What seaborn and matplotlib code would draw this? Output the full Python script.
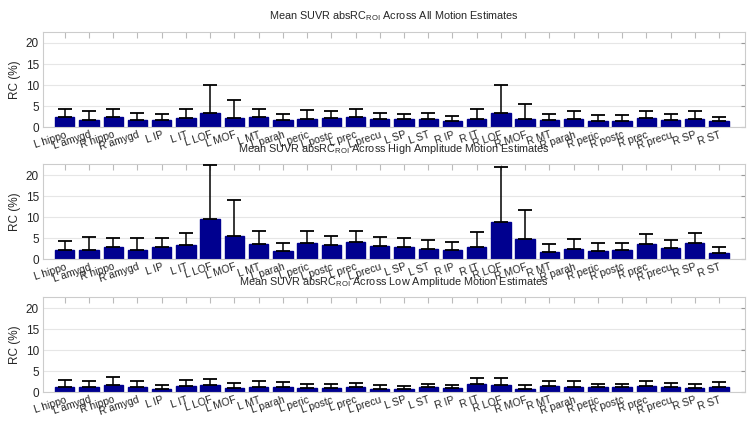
import numpy as np
import pandas as pd
import matplotlib
matplotlib.use("Agg")
import matplotlib.pyplot as plt
import matplotlib.transforms as mtransforms
import seaborn as sns

# Region labels
regions = ["L hippo", "L amygd", "R hippo", "R amygd",
           "L IP", "L IT", "L LOF", "L MOF", "L MT", "L parah", "L peric",
           "L postc", "L prec", "L precu", "L SP", "L ST",
           "R IP", "R IT", "R LOF", "R MOF", "R MT", "R parah", "R peric",
           "R postc", "R prec", "R precu", "R SP", "R ST"]

# Mean RC (%) and top of error bar (mean + SD)
all_mean = [2.3, 1.7, 2.3, 1.7, 1.7, 2.2, 3.4, 2.2, 2.3, 1.7, 2.0, 2.2, 2.5, 1.9,
            1.8, 2.0, 1.4, 2.0, 3.3, 1.9, 1.7, 2.0, 1.5, 1.5, 2.2, 1.7, 2.0, 1.4]
all_top = [4.4, 3.7, 4.4, 3.4, 3.0, 4.2, 10.0, 6.5, 4.4, 3.0, 4.1, 3.9, 4.4, 3.4,
           3.1, 3.4, 2.6, 4.4, 10.0, 5.4, 3.0, 3.8, 2.8, 2.9, 3.9, 3.0, 3.8, 2.5]

high_mean = [2.2, 2.2, 2.8, 2.2, 2.8, 3.3, 9.6, 5.5, 3.5, 2.0, 3.8, 3.3, 4.1, 3.1,
             2.8, 2.5, 2.2, 2.8, 8.8, 4.8, 1.8, 2.5, 2.0, 2.2, 3.6, 2.6, 3.8, 1.5]
high_top = [4.3, 5.2, 5.1, 5.0, 5.0, 6.3, 22.4, 14.1, 6.7, 3.8, 6.8, 5.5, 6.7, 5.3,
            5.0, 4.6, 4.1, 6.4, 21.9, 11.6, 3.6, 4.8, 3.9, 3.9, 5.9, 4.5, 6.3, 3.0]

low_mean = [1.3, 1.1, 1.6, 1.1, 0.8, 1.4, 1.6, 1.0, 1.3, 1.1, 1.0, 1.0, 1.3, 0.8,
            0.7, 1.1, 1.0, 1.8, 1.6, 0.8, 1.4, 1.3, 1.1, 1.1, 1.4, 1.1, 1.0, 1.3]
low_top = [2.9, 2.7, 3.5, 2.6, 1.6, 2.9, 3.1, 2.1, 2.6, 2.4, 1.8, 1.9, 2.2, 1.7,
           1.5, 2.0, 1.7, 3.4, 3.4, 1.7, 2.6, 2.7, 1.8, 2.0, 2.6, 2.1, 1.8, 2.4]

titles = ["All Motion Estimates", "High Amplitude Motion Estimates",
          "Low Amplitude Motion Estimates"]

sns.set_style("white")
plt.rcParams["font.family"] = ["Liberation Sans", "DejaVu Sans"]
plt.rcParams["mathtext.fontset"] = "custom"
plt.rcParams["mathtext.rm"] = "Liberation Sans"

navy = "#00008F"

fig = plt.figure(figsize=(7.54, 4.22), dpi=100)
positions = [[0.057, 0.699, 0.931, 0.225],
             [0.057, 0.386, 0.931, 0.225],
             [0.057, 0.071, 0.931, 0.225]]

datasets = [(all_mean, all_top), (high_mean, high_top), (low_mean, low_top)]

# shift tick labels a little to the right, like the original
shift = mtransforms.ScaledTranslation(5 / 100, 0, fig.dpi_scale_trans)

for pos, (means, tops), name in zip(positions, datasets, titles):
    ax = fig.add_axes(pos)
    df = pd.DataFrame({"Region": regions, "RC": means})
    sns.barplot(data=df, x="Region", y="RC", color=navy, saturation=1,
                width=0.8, ax=ax, edgecolor=navy)
    upper = np.array(tops) - np.array(means)
    ax.errorbar(np.arange(len(regions)), means,
                yerr=[np.zeros(len(regions)), upper],
                fmt="none", ecolor="black", elinewidth=1.1, capsize=5,
                capthick=1.3, zorder=3)
    ax.set_xlim(-0.9, 28.07)
    ax.set_ylim(0, 22.6)
    ax.set_yticks([0, 5, 10, 15, 20])
    ax.yaxis.grid(True, color="#e6e6e6", linewidth=0.8)
    ax.set_axisbelow(True)
    ax.set_xlabel("")
    ax.set_ylabel("RC (%)", fontsize=8.5, labelpad=3)
    ax.set_xticks(np.arange(len(regions)))
    ax.set_xticklabels(regions, rotation=18, ha="right", va="top",
                       rotation_mode="anchor", fontsize=7.5)
    for lab in ax.get_xticklabels():
        lab.set_transform(lab.get_transform() + shift)
    ax.tick_params(axis="x", which="both", direction="in", length=4,
                   color="#bbbbbb", top=True, bottom=False, pad=2)
    ax.tick_params(axis="y", direction="in", length=3, color="#999999",
                   right=True, labelsize=8.5, pad=3)
    for side in ax.spines.values():
        side.set_color("#cccccc")
        side.set_linewidth(0.8)
    ax.set_title("Mean SUVR absRC$_{\\mathregular{ROI}}$ Across " + name,
                 fontsize=7.8, pad=9)

plt.savefig("out.png", dpi=100)
